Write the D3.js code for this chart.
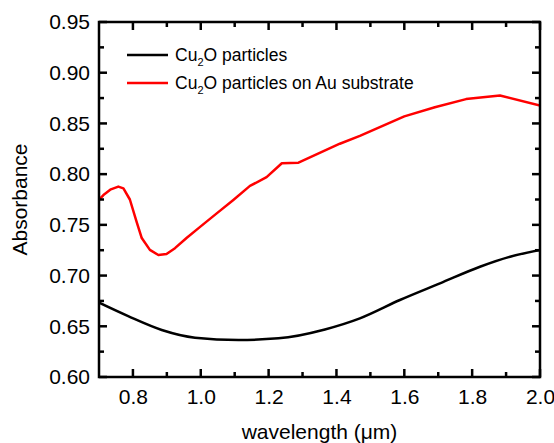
<!DOCTYPE html>
<html><head><meta charset="utf-8">
<script src="https://cdn.jsdelivr.net/npm/d3@7"></script>
<style>body{margin:0;background:#fff;}svg{display:block;font-family:"Liberation Sans",Arial,sans-serif;}</style>
</head><body>
<svg id="c" width="554" height="443"></svg>
<script>
const seriesNames = ["Cu2O particles", "Cu2O particles on Au substrate"];
const seriesColors = ["#000000", "#ff0000"];
const blackX = [0.70, 0.786, 0.885, 0.983, 1.111, 1.229, 1.366, 1.469, 1.587, 1.705, 1.823, 1.912, 2.00];
const blackY = [0.6733, 0.660, 0.6464, 0.6388, 0.6365, 0.6381, 0.6469, 0.6578, 0.6759, 0.6923, 0.7087, 0.7186, 0.7252];
const redX = [0.70, 0.715, 0.735, 0.757, 0.772, 0.791, 0.81, 0.826, 0.850, 0.875, 0.899, 0.924, 0.958, 0.998, 1.047, 1.096, 1.145, 1.194, 1.239, 1.288, 1.41, 1.469, 1.60, 1.69, 1.782, 1.882, 2.00];
const redY = [0.7746, 0.780, 0.785, 0.7877, 0.786, 0.775, 0.754, 0.737, 0.7253, 0.7203, 0.7213, 0.727, 0.737, 0.748, 0.7613, 0.7746, 0.7884, 0.797, 0.8107, 0.8113, 0.830, 0.8377, 0.857, 0.866, 0.874, 0.8775, 0.8676];
const xTicks = [0.8, 1.0, 1.2, 1.4, 1.6, 1.8, 2.0];
const xMinor = [0.9, 1.1, 1.3, 1.5, 1.7, 1.9];
const yTicks = [0.60, 0.65, 0.70, 0.75, 0.80, 0.85, 0.90, 0.95];
const yMinor = [0.625, 0.675, 0.725, 0.775, 0.825, 0.875, 0.925];

const L = 99, R = 540, T = 22, B = 377;
const svg = d3.select("#c");
const x = d3.scaleLinear().domain([0.7, 2.0]).range([L, R]);
const y = d3.scaleLinear().domain([0.60, 0.95]).range([B, T]);

svg.append("clipPath").attr("id","clp").append("rect").attr("x",L).attr("y",T).attr("width",R-L).attr("height",B-T);

const smooth = d3.line().x(d=>x(d[0])).y(d=>y(d[1])).curve(d3.curveMonotoneX);
const straight = d3.line().x(d=>x(d[0])).y(d=>y(d[1]));
const blackData = blackX.map((v,i)=>[v, blackY[i]]);
const redData = redX.map((v,i)=>[v, redY[i]]);
svg.append("path").attr("d", smooth(blackData)).attr("fill","none").attr("stroke",seriesColors[0]).attr("stroke-width",2.5).attr("clip-path","url(#clp)");
svg.append("path").attr("d", straight(redData)).attr("fill","none").attr("stroke",seriesColors[1]).attr("stroke-width",2.5).attr("stroke-linejoin","round").attr("clip-path","url(#clp)");

svg.append("rect").attr("x",L).attr("y",T).attr("width",R-L).attr("height",B-T).attr("fill","none").attr("stroke","#000").attr("stroke-width",2.5);

// tick labels via axes
function fmtY(d){return d3.format(".2f")(d);}
const gB = svg.append("g").attr("transform",`translate(0,${B})`).call(d3.axisBottom(x).tickValues(xTicks).tickSize(0).tickPadding(12).tickFormat(d3.format(".1f")));
const gL = svg.append("g").attr("transform",`translate(${L},0)`).call(d3.axisLeft(y).tickValues(yTicks).tickSize(0).tickPadding(9).tickFormat(fmtY));
[gB,gL].forEach(g=>{
  g.select(".domain").remove();
  g.selectAll(".tick line").remove();
  g.selectAll(".tick text").attr("font-size",21).attr("fill","#000").attr("font-family","Liberation Sans, Arial, sans-serif");
});

// inward tick marks on all four sides
const tk = svg.append("g").attr("stroke","#000").attr("stroke-width",2.5);
const xt = xTicks.map(v=>({v, len:8})).concat(xMinor.map(v=>({v, len:5})));
const yt = yTicks.map(v=>({v, len:8})).concat(yMinor.map(v=>({v, len:5})));
tk.selectAll("line.xb").data(xt).join("line").attr("class","xb")
  .attr("x1",d=>x(d.v)).attr("x2",d=>x(d.v)).attr("y1",B).attr("y2",d=>B-d.len);
tk.selectAll("line.xt").data(xt).join("line").attr("class","xt")
  .attr("x1",d=>x(d.v)).attr("x2",d=>x(d.v)).attr("y1",T).attr("y2",d=>T+d.len);
tk.selectAll("line.yl").data(yt).join("line").attr("class","yl")
  .attr("y1",d=>y(d.v)).attr("y2",d=>y(d.v)).attr("x1",L).attr("x2",d=>L+d.len);
tk.selectAll("line.yr").data(yt).join("line").attr("class","yr")
  .attr("y1",d=>y(d.v)).attr("y2",d=>y(d.v)).attr("x1",R).attr("x2",d=>R-d.len);

svg.append("text").attr("x",(L+R)/2).attr("y",439).attr("text-anchor","middle").attr("font-size",21).text("wavelength (\u03bcm)");
svg.append("text").attr("transform",`translate(27,${(T+B)/2}) rotate(-90)`).attr("text-anchor","middle").attr("font-size",21).text("Absorbance");

const legY = [55, 83];
seriesNames.forEach((n,i)=>{
  svg.append("line").attr("x1",127).attr("x2",168).attr("y1",legY[i]).attr("y2",legY[i]).attr("stroke",seriesColors[i]).attr("stroke-width",2.5);
  const t = svg.append("text").attr("x",175).attr("y",legY[i]+6).attr("font-size",17.5);
  t.append("tspan").text("Cu");
  t.append("tspan").attr("font-size",11).attr("dy",5).text("2");
  t.append("tspan").attr("dy",-5).text(n.slice(3));
});
</script>
</body></html>
